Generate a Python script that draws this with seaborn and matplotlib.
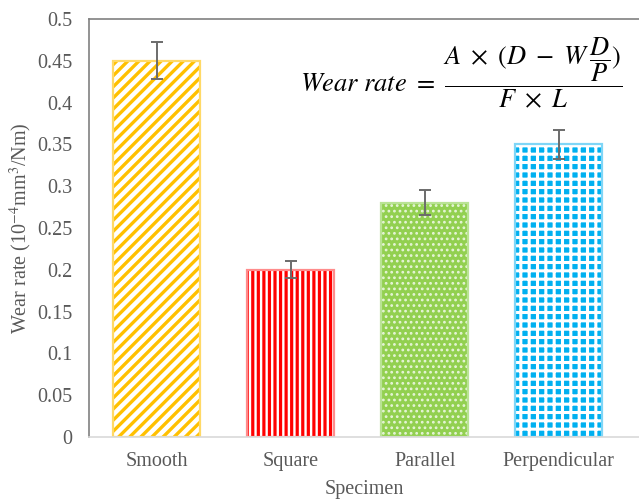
import matplotlib
matplotlib.use("Agg")
import matplotlib.pyplot as plt
import seaborn as sns
import pandas as pd

# Wear rate per specimen surface texture
specimens = ["Smooth", "Square", "Parallel", "Perpendicular"]
wear_rate = [0.45, 0.20, 0.28, 0.35]
wear_err = [0.022, 0.010, 0.015, 0.017]
y_ticks = [0, 0.05, 0.1, 0.15, 0.2, 0.25, 0.3, 0.35, 0.4, 0.45, 0.5]
y_tick_labels = ["0", "0.05", "0.1", "0.15", "0.2", "0.25", "0.3", "0.35", "0.4", "0.45", "0.5"]

# Fill / hatch styling for each bar
face_colors = ["white", "white", "#92D050", "#00B0F0"]
hatch_colors = ["#FFC000", "#FF0000", "#E6F4D8", "white"]
edge_colors = ["#FFD966", "#FF8C8C", "#B9E394", "#7FD6F7"]
hatches = ["///", "|||", "...", "++"]
hatch_lws = [2.4, 2.3, 1.2, 2.2]

sns.set_theme(style="white")
plt.rcParams["font.family"] = ["Liberation Serif", "DejaVu Serif"]
plt.rcParams["mathtext.fontset"] = "stix"

df = pd.DataFrame({"Specimen": specimens, "Wear": wear_rate})

fig = plt.figure(figsize=(6.39, 5.01), dpi=100)
ax = fig.add_axes([89 / 639, 1 - 437 / 501, 1 - 89 / 639, (437 - 19) / 501])

sns.barplot(data=df, x="Specimen", y="Wear", order=specimens, errorbar=None,
            width=0.65, ax=ax)

for i, bar in enumerate(ax.patches):
    bar.set_facecolor(face_colors[i])
    bar.set_edgecolor(hatch_colors[i])
    bar.set_hatch(hatches[i])
    try:
        bar.set_hatch_linewidth(hatch_lws[i])
    except AttributeError:
        pass
    bar.set_linewidth(0)
    # light outline drawn on top of the hatch
    ax.add_patch(plt.Rectangle(bar.get_xy(), bar.get_width(), bar.get_height(),
                               fill=False, edgecolor=edge_colors[i], linewidth=1.6,
                               zorder=bar.get_zorder() + 0.1))

ax.errorbar(range(len(specimens)), wear_rate, yerr=wear_err, fmt="none",
            ecolor="#6b6b6b", elinewidth=1.4, capsize=4, capthick=1.4, zorder=5)

ax.set_xlim(-0.507, 3.6)
ax.set_ylim(0, 0.5)
ax.set_yticks(y_ticks)
ax.set_yticklabels(y_tick_labels)

text_color = "#595959"
ax.tick_params(axis="y", length=0, pad=12, labelsize=14.5, labelcolor=text_color)
ax.tick_params(axis="x", length=0, pad=11, labelsize=14.5, labelcolor=text_color)

ax.set_xlabel("Specimen", fontsize=14.5, color=text_color, labelpad=6)
ax.set_ylabel("Wear rate (10$^{-4}$mm$^{3}$/Nm)", fontsize=14.5, color=text_color,
              labelpad=2)

for side in ["left", "top"]:
    ax.spines[side].set_color("#808080")
    ax.spines[side].set_linewidth(1.2)
ax.spines["bottom"].set_color("#d9d9d9")
ax.spines["bottom"].set_linewidth(1.2)
ax.spines["right"].set_visible(False)

ax.text(461 / 639, 1 - 73 / 501,
        r"$Wear\ rate\ =\ \dfrac{A\ \times\ (D\ -\ W\,\dfrac{D}{P})}{F\ \times\ L}$",
        transform=fig.transFigure, ha="center", va="center", fontsize=19,
        color="black")

fig.savefig("out.png", dpi=100)
